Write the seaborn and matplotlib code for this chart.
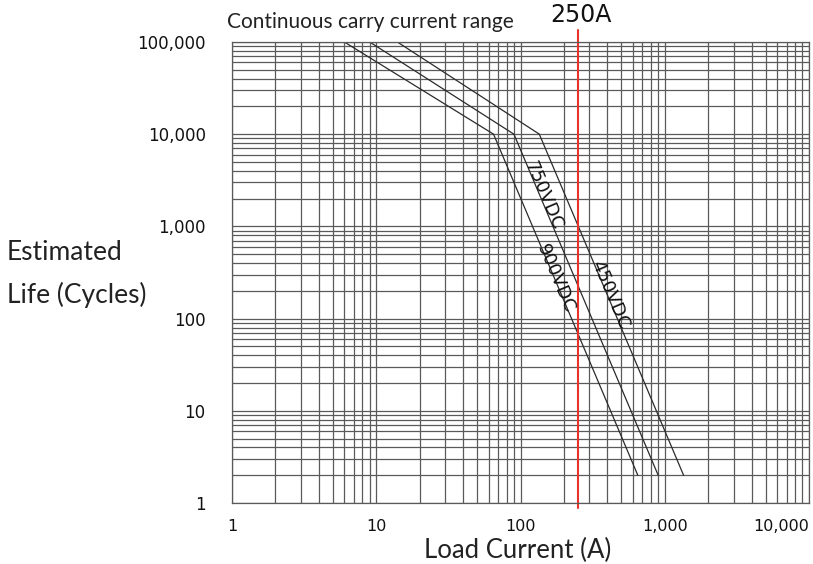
import pandas as pd
import matplotlib
matplotlib.use("Agg")
import matplotlib.pyplot as plt
import seaborn as sns
from matplotlib.ticker import FixedLocator, LogLocator, NullFormatter, FixedFormatter

# Data
series_names = ["900VDC", "750VDC", "450VDC"]
current_900 = [6, 65, 650]
cycles_900 = [100000, 10000, 2]
current_750 = [9, 90, 900]
cycles_750 = [100000, 10000, 2]
current_450 = [14, 135, 1350]
cycles_450 = [100000, 10000, 2]
label_current = [175, 144, 415]
label_cycles = [275, 2140, 180]
rated_current = 250

x_ticks = [1, 10, 100, 1000, 10000]
x_tick_labels = ["1", "10", "100", "1,000", "10,000"]
y_ticks = [1, 10, 100, 1000, 10000, 100000]
y_tick_labels = ["1", "10", "100", "1,000", "10,000", "100,000"]

df = pd.concat([
    pd.DataFrame({"series": "900VDC", "current": current_900, "cycles": cycles_900}),
    pd.DataFrame({"series": "750VDC", "current": current_750, "cycles": cycles_750}),
    pd.DataFrame({"series": "450VDC", "current": current_450, "cycles": cycles_450}),
])

sns.set_style("white")
plt.rcParams["font.family"] = ["DejaVu Sans"]

fig = plt.figure(figsize=(8.13, 5.64), dpi=100)
ax = fig.add_axes([0.2854, 0.1082, 0.7097, 0.8174])

grid_col = "#5a5a5a"
ax.set_xscale("log")
ax.set_yscale("log")
ax.set_xlim(1, 10000)
ax.set_ylim(1, 100000)

sns.lineplot(data=df, x="current", y="cycles", hue="series", units="series",
             estimator=None, palette=["#2b2b2b"] * 3, linewidth=0.9,
             legend=False, ax=ax)

ax.grid(which="both", color=grid_col, linewidth=0.9)
ax.set_axisbelow(True)
for s in ax.spines.values():
    s.set_color(grid_col)
    s.set_linewidth(0.9)

ax.xaxis.set_major_locator(FixedLocator(x_ticks))
ax.xaxis.set_major_formatter(FixedFormatter(x_tick_labels))
ax.yaxis.set_major_locator(FixedLocator(y_ticks))
ax.yaxis.set_major_formatter(FixedFormatter(y_tick_labels))
ax.xaxis.set_minor_locator(LogLocator(base=10, subs=range(2, 10), numticks=20))
ax.yaxis.set_minor_locator(LogLocator(base=10, subs=range(2, 10), numticks=20))
ax.xaxis.set_minor_formatter(NullFormatter())
ax.yaxis.set_minor_formatter(NullFormatter())
ax.tick_params(axis="y", which="major", length=14, width=0.9, color=grid_col,
               pad=5, labelsize=12, labelcolor="#111111")
ax.tick_params(axis="x", which="major", length=10, width=0.9, color=grid_col,
               pad=1.5, labelsize=11.5, labelcolor="#111111")
ax.tick_params(which="minor", length=0)
ax.set_xlabel("")
ax.set_ylabel("")

# last x label sits against the right edge
fig.canvas.draw()
ax.get_xticklabels()[-1].set_horizontalalignment("right")

# rated current marker
ax.axvline(rated_current, ymin=-0.01, ymax=1.025, color="#e8332d",
           linewidth=1.5, clip_on=False)

narrow = ["Liberation Sans Narrow", "DejaVu Sans"]
for name, xc, yc in zip(series_names, label_current, label_cycles):
    ax.text(xc, yc, name, rotation=-67, rotation_mode="anchor", ha="center",
            va="center", fontsize=13, family=narrow, color="#111111")

lato = ["Lato", "DejaVu Sans"]
fig.text(227 / 813, 1 - 28 / 564, "Continuous carry current range",
         family=lato, fontsize=15, color="#222222", ha="left", va="baseline")
fig.text(581 / 813, 1 - 22 / 564, "250A", fontsize=17, color="#111111",
         ha="center", va="baseline")
fig.text(7 / 813, 1 - 260 / 564, "Estimated", family=lato,
         fontsize=19, color="#222222", ha="left", va="baseline")
fig.text(7 / 813, 1 - 303 / 564, "Life (Cycles)", family=lato,
         fontsize=19, color="#222222", ha="left", va="baseline")
fig.text(518 / 813, 1 - 558 / 564, "Load Current (A)", family=lato,
         fontsize=18.5, color="#222222", ha="center", va="baseline")

plt.savefig("out.png", dpi=100)
